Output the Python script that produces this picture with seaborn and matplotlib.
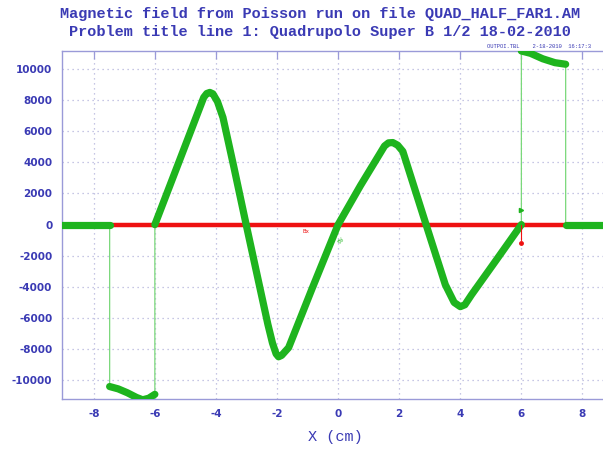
import numpy as np
import pandas as pd
import matplotlib
matplotlib.use("Agg")
import matplotlib.pyplot as plt
import seaborn as sns

# By field, one piece at a time
x_left = [-9.1, -7.48]
y_left = [0, 0]

x_low = [-7.48, -7.2, -6.9, -6.6, -6.4, -6.2, -6.0]
y_low = [-10400, -10550, -10800, -11100, -11250, -11150, -10900]

x_wave = [-6.0, -5.2, -4.4, -4.3, -4.2, -4.1, -3.95, -3.77, -3.41, -3.01,
          -2.6, -2.3, -2.15, -2.03, -1.95, -1.85, -1.62, -0.85, 0.0, 0.73, 1.52,
          1.65, 1.79, 1.95, 2.12, 2.88, 3.51, 3.8, 4.0, 4.15, 4.37, 5.17, 6.0]
y_wave = [0, 4080, 8170, 8420, 8490, 8400, 7900, 6880, 3670, 0,
          -3700, -6400, -7600, -8300, -8490, -8400, -7900, -4100, 0, 2500, 5050,
          5250, 5270, 5100, 4700, 0, -3860, -5000, -5270, -5150, -4500, -2300, 0]

x_high = [6.0, 6.3, 6.7, 7.1, 7.45]
y_high = [11150, 11000, 10650, 10400, 10300]

x_right = [7.45, 9.0]
y_right = [0, 0]

# Bx is zero along the whole run
x_bx = [-7.48, 7.45]
y_bx = [0, 0]

ticks_x = [-8, -6, -4, -2, 0, 2, 4, 6, 8]
ticks_y = [-10000, -8000, -6000, -4000, -2000, 0, 2000, 4000, 6000, 8000, 10000]

pieces = [(x_left, y_left), (x_low, y_low), (x_wave, y_wave), (x_high, y_high), (x_right, y_right)]
thick = pd.concat([pd.DataFrame({"x": xs, "y": ys, "seg": i}) for i, (xs, ys) in enumerate(pieces)],
                  ignore_index=True)
thin = thick.copy()
bx = pd.DataFrame({"x": x_bx, "y": y_bx})

sns.set_style("white")
plt.rcParams["font.family"] = ["DejaVu Sans"]
plt.rcParams["axes.unicode_minus"] = False

blue = "#3a3ab4"
axis_col = "#9a9ad8"
green = "#1eb41e"

fig = plt.figure(figsize=(6.03, 4.5), dpi=100)
ax = fig.add_axes([62 / 603, 51 / 450, 1 - 62 / 603 + 0.01, 348 / 450])

sns.lineplot(data=bx, x="x", y="y", color="#ee1111", linewidth=3.2, ax=ax,
             estimator=None, sort=False, zorder=3)
sns.lineplot(data=thin, x="x", y="y", color="#7ad87a", linewidth=0.9, ax=ax,
             estimator=None, sort=False, zorder=2)
sns.lineplot(data=thick, x="x", y="y", units="seg", color=green, linewidth=5.2, ax=ax,
             estimator=None, sort=False, zorder=4, solid_capstyle="round",
             solid_joinstyle="round")

# little markers at x = 6
ax.plot([6, 6], [0, -1000], color="#ee1111", linewidth=0.8, zorder=5)
ax.plot([6], [-1150], marker="o", color="#ee1111", markersize=2.5, zorder=5)
ax.plot([6], [950], marker=">", color=green, markersize=3, zorder=5)
ax.text(-1.05, -450, "Bx", color="#ee1111", fontsize=4, ha="center", va="center", zorder=6)
ax.text(0.1, -1000, "By", color=green, fontsize=4, rotation=60, ha="center", va="center", zorder=6)

ax.set_xlim(-9.04, 8.87)
ax.set_ylim(-11200, 11150)
ax.set_xticks(ticks_x)
ax.set_yticks(ticks_y)
ax.grid(True, color="#b4b4dc", linestyle=(0, (1, 3)), linewidth=0.9)
ax.tick_params(axis="both", direction="in", length=6, color=axis_col, width=0.9,
               labelsize=7.5, labelcolor=blue, top=True, pad=7)
for lab in ax.get_xticklabels() + ax.get_yticklabels():
    lab.set_fontweight("bold")
for side in ["left", "bottom", "top"]:
    ax.spines[side].set_color(axis_col)
    ax.spines[side].set_linewidth(1.0)
ax.spines["right"].set_visible(False)

ax.set_xlabel("X (cm)", family="Liberation Mono", fontsize=11, color=blue, labelpad=8)
ax.set_ylabel("")

fig.text(0.53, 1 - 14 / 450, "Magnetic field from Poisson run on file QUAD_HALF_FAR1.AM",
         family="Liberation Mono", fontsize=11, fontweight="bold", color=blue,
         ha="center", va="center")
fig.text(0.53, 1 - 32 / 450, "Problem title line 1: Quadrupolo Super B 1/2 18-02-2010",
         family="Liberation Mono", fontsize=11, fontweight="bold", color=blue,
         ha="center", va="center")
fig.text(487 / 603, 1 - 46 / 450, "OUTPOI.TBL    2-18-2010  16:17:3",
         family="Liberation Mono", fontsize=4.0, color=blue, ha="left", va="center")

fig.savefig("out.png", dpi=100)
